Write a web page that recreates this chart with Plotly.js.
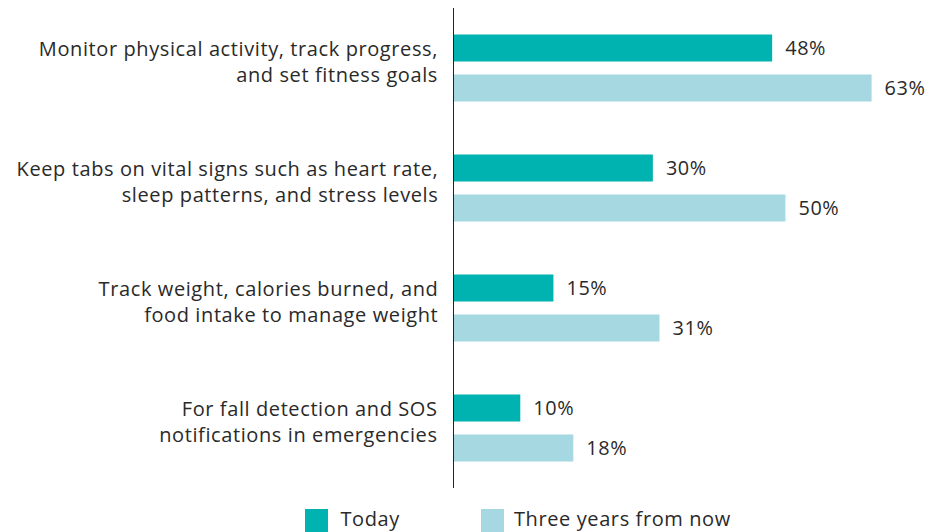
<!DOCTYPE html>
<html>
<head>
<meta charset="utf-8">
<script src="https://cdn.plot.ly/plotly-3.0.1.min.js"></script>
<style>html,body{margin:0;padding:0;background:#fff;}#chart{width:934px;height:532px;}
#chart text{letter-spacing:0.6px;}</style>
</head>
<body>
<div id="chart"></div>
<script>
const categories = [
  "Monitor physical activity, track progress,<br>and set fitness goals",
  "Keep tabs on vital signs such as heart rate,<br>sleep patterns, and stress levels",
  "Track weight, calories burned, and<br>food intake to manage weight",
  "For fall detection and SOS<br>notifications in emergencies"
];
const seriesNames = ["Today", "Three years from now"];
const todayValues = [48, 30, 15, 10];
const threeYearValues = [63, 50, 31, 18];
const colors = ["#00B2B0", "#A6D8E2"];

const FONT = "'Open Sans', 'Noto Sans', sans-serif";
const TXT = "#2a2a2a";
function mkTrace(vals, name, color) {
  return {
    type: "bar", orientation: "h",
    y: categories, x: vals, name: name,
    marker: {color: color},
    text: vals.map(v => "  " + v + "%"),
    textposition: "outside", cliponaxis: false,
    textfont: {family: FONT, size: 20, color: TXT},
    hoverinfo: "skip"
  };
}
const data = [
  mkTrace(todayValues, seriesNames[0], colors[0]),
  mkTrace(threeYearValues, seriesNames[1], colors[1])
];

function px2x(p){ return (p - 454) / 464; }
function py2y(p){ return (488 - p) / 480; }

const catAnnotations = categories.map(c => ({
  xref: "paper", yref: "y", x: 0, y: c, xanchor: "right", yanchor: "middle",
  xshift: -14, yshift: 7, align: "right", text: c, showarrow: false,
  font: {family: FONT, size: 20, color: TXT}
}));

const layout = {
  width: 934, height: 532,
  margin: {l: 454, r: 16, t: 8, b: 44},
  paper_bgcolor: "#fff", plot_bgcolor: "#fff",
  barmode: "group", bargap: 0.333, bargroupgap: 0.33,
  showlegend: false,
  font: {family: FONT, size: 20, color: TXT},
  xaxis: {range: [0, 70], visible: false, fixedrange: true},
  yaxis: {
    autorange: "reversed", showline: true, linecolor: "#222", linewidth: 1,
    showgrid: false, ticks: "", showticklabels: false
  },
  shapes: [
    {type: "rect", xref: "paper", yref: "paper", x0: px2x(305), x1: px2x(328), y0: py2y(534), y1: py2y(509), fillcolor: colors[0], line: {width: 0}},
    {type: "rect", xref: "paper", yref: "paper", x0: px2x(481), x1: px2x(504), y0: py2y(534), y1: py2y(509), fillcolor: colors[1], line: {width: 0}}
  ],
  annotations: catAnnotations.concat([
    {xref: "paper", yref: "paper", x: px2x(341), y: py2y(518), xanchor: "left", yanchor: "middle", borderpad: 0, text: seriesNames[0], showarrow: false, font: {family: FONT, size: 20, color: TXT}},
    {xref: "paper", yref: "paper", x: px2x(519), y: py2y(518), xanchor: "left", yanchor: "middle", borderpad: 0, text: seriesNames[1], showarrow: false, font: {family: FONT, size: 20, color: TXT}}
  ])
};
Plotly.newPlot("chart", data, layout, {displayModeBar: false, staticPlot: true});
</script>
</body>
</html>
